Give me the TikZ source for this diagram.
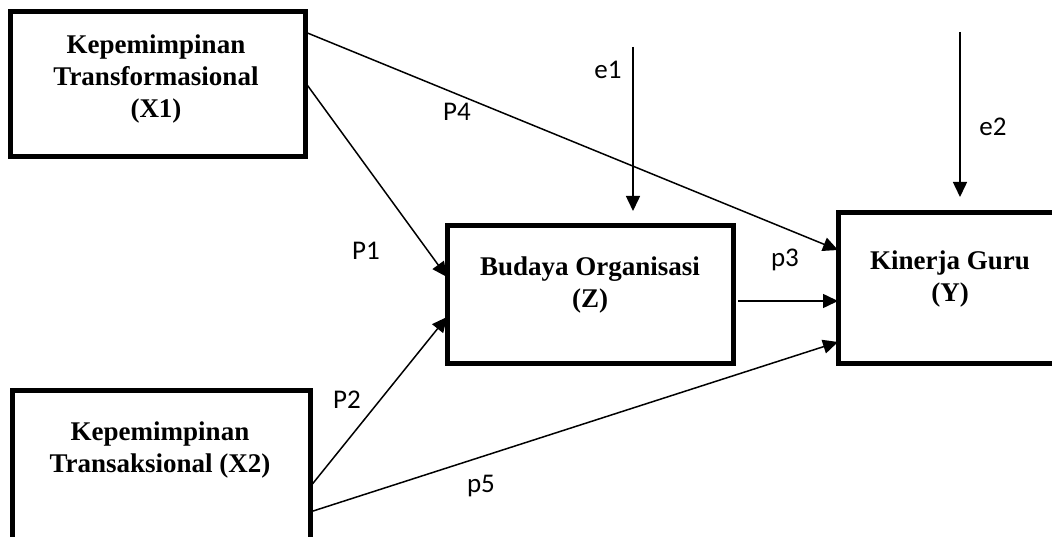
\documentclass[tikz,border=0pt]{standalone}
\usepackage{fontspec}
\setmainfont{Liberation Serif}
\newfontfamily\lblfont{Carlito}
\usetikzlibrary{arrows.meta}

\begin{document}
\begin{tikzpicture}[x=1pt,y=-1pt,
  varbox/.style={draw,line width=5pt,rectangle,outer sep=0pt,inner sep=0pt},
  boxtext/.style={align=center,font=\fontsize{27}{32}\selectfont\bfseries,inner sep=0pt},
  path/.style={line width=1.5pt,-{Triangle[length=15pt,width=14pt]}},
  coef/.style={font=\lblfont\fontsize{27}{30}\selectfont,inner sep=0pt}]
\useasboundingbox (0,0) rectangle (1052,537);
\clip (0,0) rectangle (1052,537);

% variables
\node[varbox,minimum width=295pt,minimum height=145pt] (x1) at (157.5,84.5) {};
\node[varbox,minimum width=298pt,minimum height=170pt] (x2) at (161,475) {};
\node[varbox,minimum width=286pt,minimum height=137pt] (z) at (590,294.5) {};
\node[varbox,minimum width=244pt,minimum height=150pt] (y) at (960,288) {};

\node[boxtext] (x1t) at (156,79) {Kepemimpinan\\Transformasional\\(X1)};
\node[boxtext] (x2t) at (160,450) {Kepemimpinan\\Transaksional (X2)};
\node[boxtext] (zt) at (590,285) {Budaya Organisasi\\(Z)};
\node[boxtext] (yt) at (950,279) {Kinerja Guru\\(Y)};

% errors
\coordinate (e1top) at (633,47);
\coordinate (e2top) at (960,32);
\draw[path,shorten >=15pt] (e1top) -- ([xshift=43pt]z.north);
\draw[path,shorten >=16pt] (e2top) -- (y.north);

% paths
\draw[path] ([yshift=-20pt]x1.north east) -- ([yshift=-37pt]y.north west);
\draw[path] ([yshift=-70pt]x1.north east) -- ([yshift=-51pt]z.north west);
\draw[path] ([yshift=-97pt]x2.north east) -- ([yshift=-91pt]z.north west);
\draw[path] ([yshift=-122pt]x2.north east) -- ([yshift=-129pt]y.north west);
\draw[path,shorten <=5pt] ([yshift=-75pt]z.north east) -- ([yshift=-88pt]y.north west);

% labels
\node[coef] (le1) at (608,70) {e1};
\node[coef] (le2) at (993,127) {e2};
\node[coef] (lp4) at (457,112) {P4};
\node[coef] (lp1) at (366,251) {P1};
\node[coef] (lp2) at (347,400) {P2};
\node[coef] (lp3) at (785,260) {p3};
\node[coef] (lp5) at (481,486) {p5};
\end{tikzpicture}
\end{document}
